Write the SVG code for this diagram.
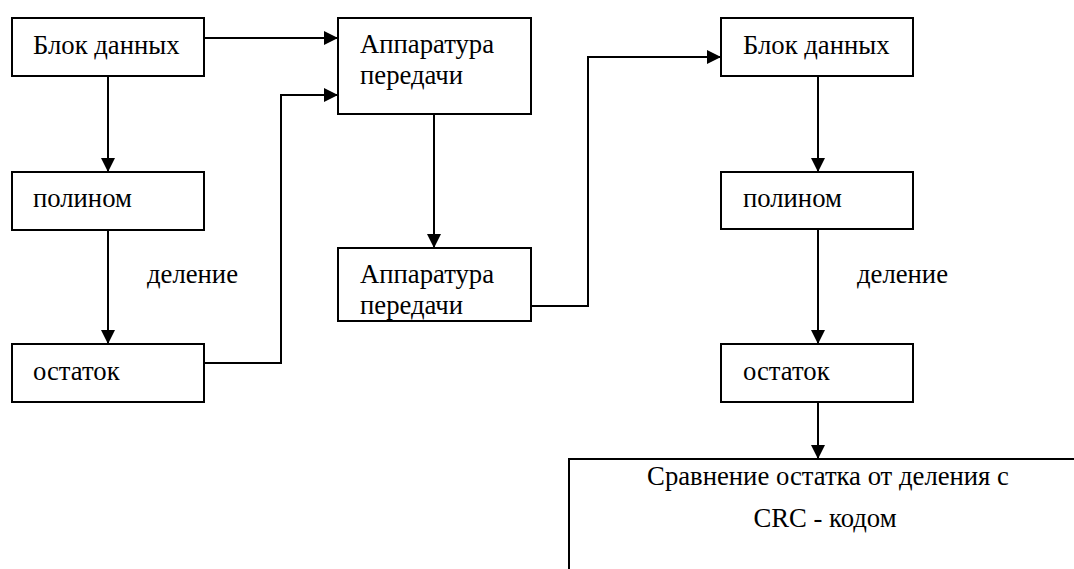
<svg xmlns="http://www.w3.org/2000/svg" width="1074" height="569" viewBox="0 0 1074 569">
<style>
.box{fill:#fff;stroke:#000;stroke-width:2}
.t{font-family:'Liberation Serif','Tinos','Times New Roman','DejaVu Serif',serif;font-size:26.7px;fill:#000}
.c{fill:none;stroke:#000;stroke-width:2}
</style>
<defs>
<marker id="ah" markerUnits="userSpaceOnUse" markerWidth="16" markerHeight="16" refX="14" refY="7" orient="auto">
<path d="M0,0 L14,7 L0,14 z" fill="#000"/>
</marker>
</defs>
<g id="connectors">
<path class="c" d="M204,38 H338" marker-end="url(#ah)"/>
<path class="c" d="M204,363 H281 V95 H338" marker-end="url(#ah)"/>
<path class="c" d="M108,76 V172" marker-end="url(#ah)"/>
<path class="c" d="M108,230 V344" marker-end="url(#ah)"/>
<path class="c" d="M434,114 V248" marker-end="url(#ah)"/>
<path class="c" d="M531,306 H588 V57 H721" marker-end="url(#ah)"/>
<path class="c" d="M818,76 V172" marker-end="url(#ah)"/>
<path class="c" d="M818,229 V344" marker-end="url(#ah)"/>
<path class="c" d="M818,402 V459" marker-end="url(#ah)"/>
</g>
<g id="label-div1"><text class="t" x="147" y="283" font-family="Liberation Serif, serif">деление</text></g>
<g id="label-div2"><text class="t" x="857" y="283">деление</text></g>
<g id="n1"><rect class="box" x="12" y="18" width="192" height="58"/><text class="t" x="33" y="54">Блок данных</text></g>
<g id="n2"><rect class="box" x="12" y="172" width="192" height="58"/><text class="t" x="33" y="207">полином</text></g>
<g id="n3"><rect class="box" x="12" y="344" width="192" height="58"/><text class="t" x="33" y="380">остаток</text></g>
<g id="n4"><rect class="box" x="338" y="18" width="193" height="96"/><text class="t" x="360" y="53">Аппаратура</text><text class="t" x="360" y="84">передачи</text></g>
<g id="n5"><rect class="box" x="338" y="248" width="193" height="73"/><text class="t" x="360" y="283">Аппаратура</text><text class="t" x="360" y="314">передачи</text></g>
<g id="n6"><rect class="box" x="721" y="18" width="192" height="58"/><text class="t" x="743" y="54">Блок данных</text></g>
<g id="n7"><rect class="box" x="721" y="172" width="192" height="57"/><text class="t" x="743" y="207">полином</text></g>
<g id="n8"><rect class="box" x="721" y="344" width="192" height="58"/><text class="t" x="743" y="380">остаток</text></g>
<g id="n9"><rect class="box" x="569" y="459" width="600" height="200"/><text class="t" x="828" y="485" text-anchor="middle">Сравнение остатка от деления с</text><text class="t" x="825" y="527" text-anchor="middle">CRC - кодом</text></g>
</svg>
